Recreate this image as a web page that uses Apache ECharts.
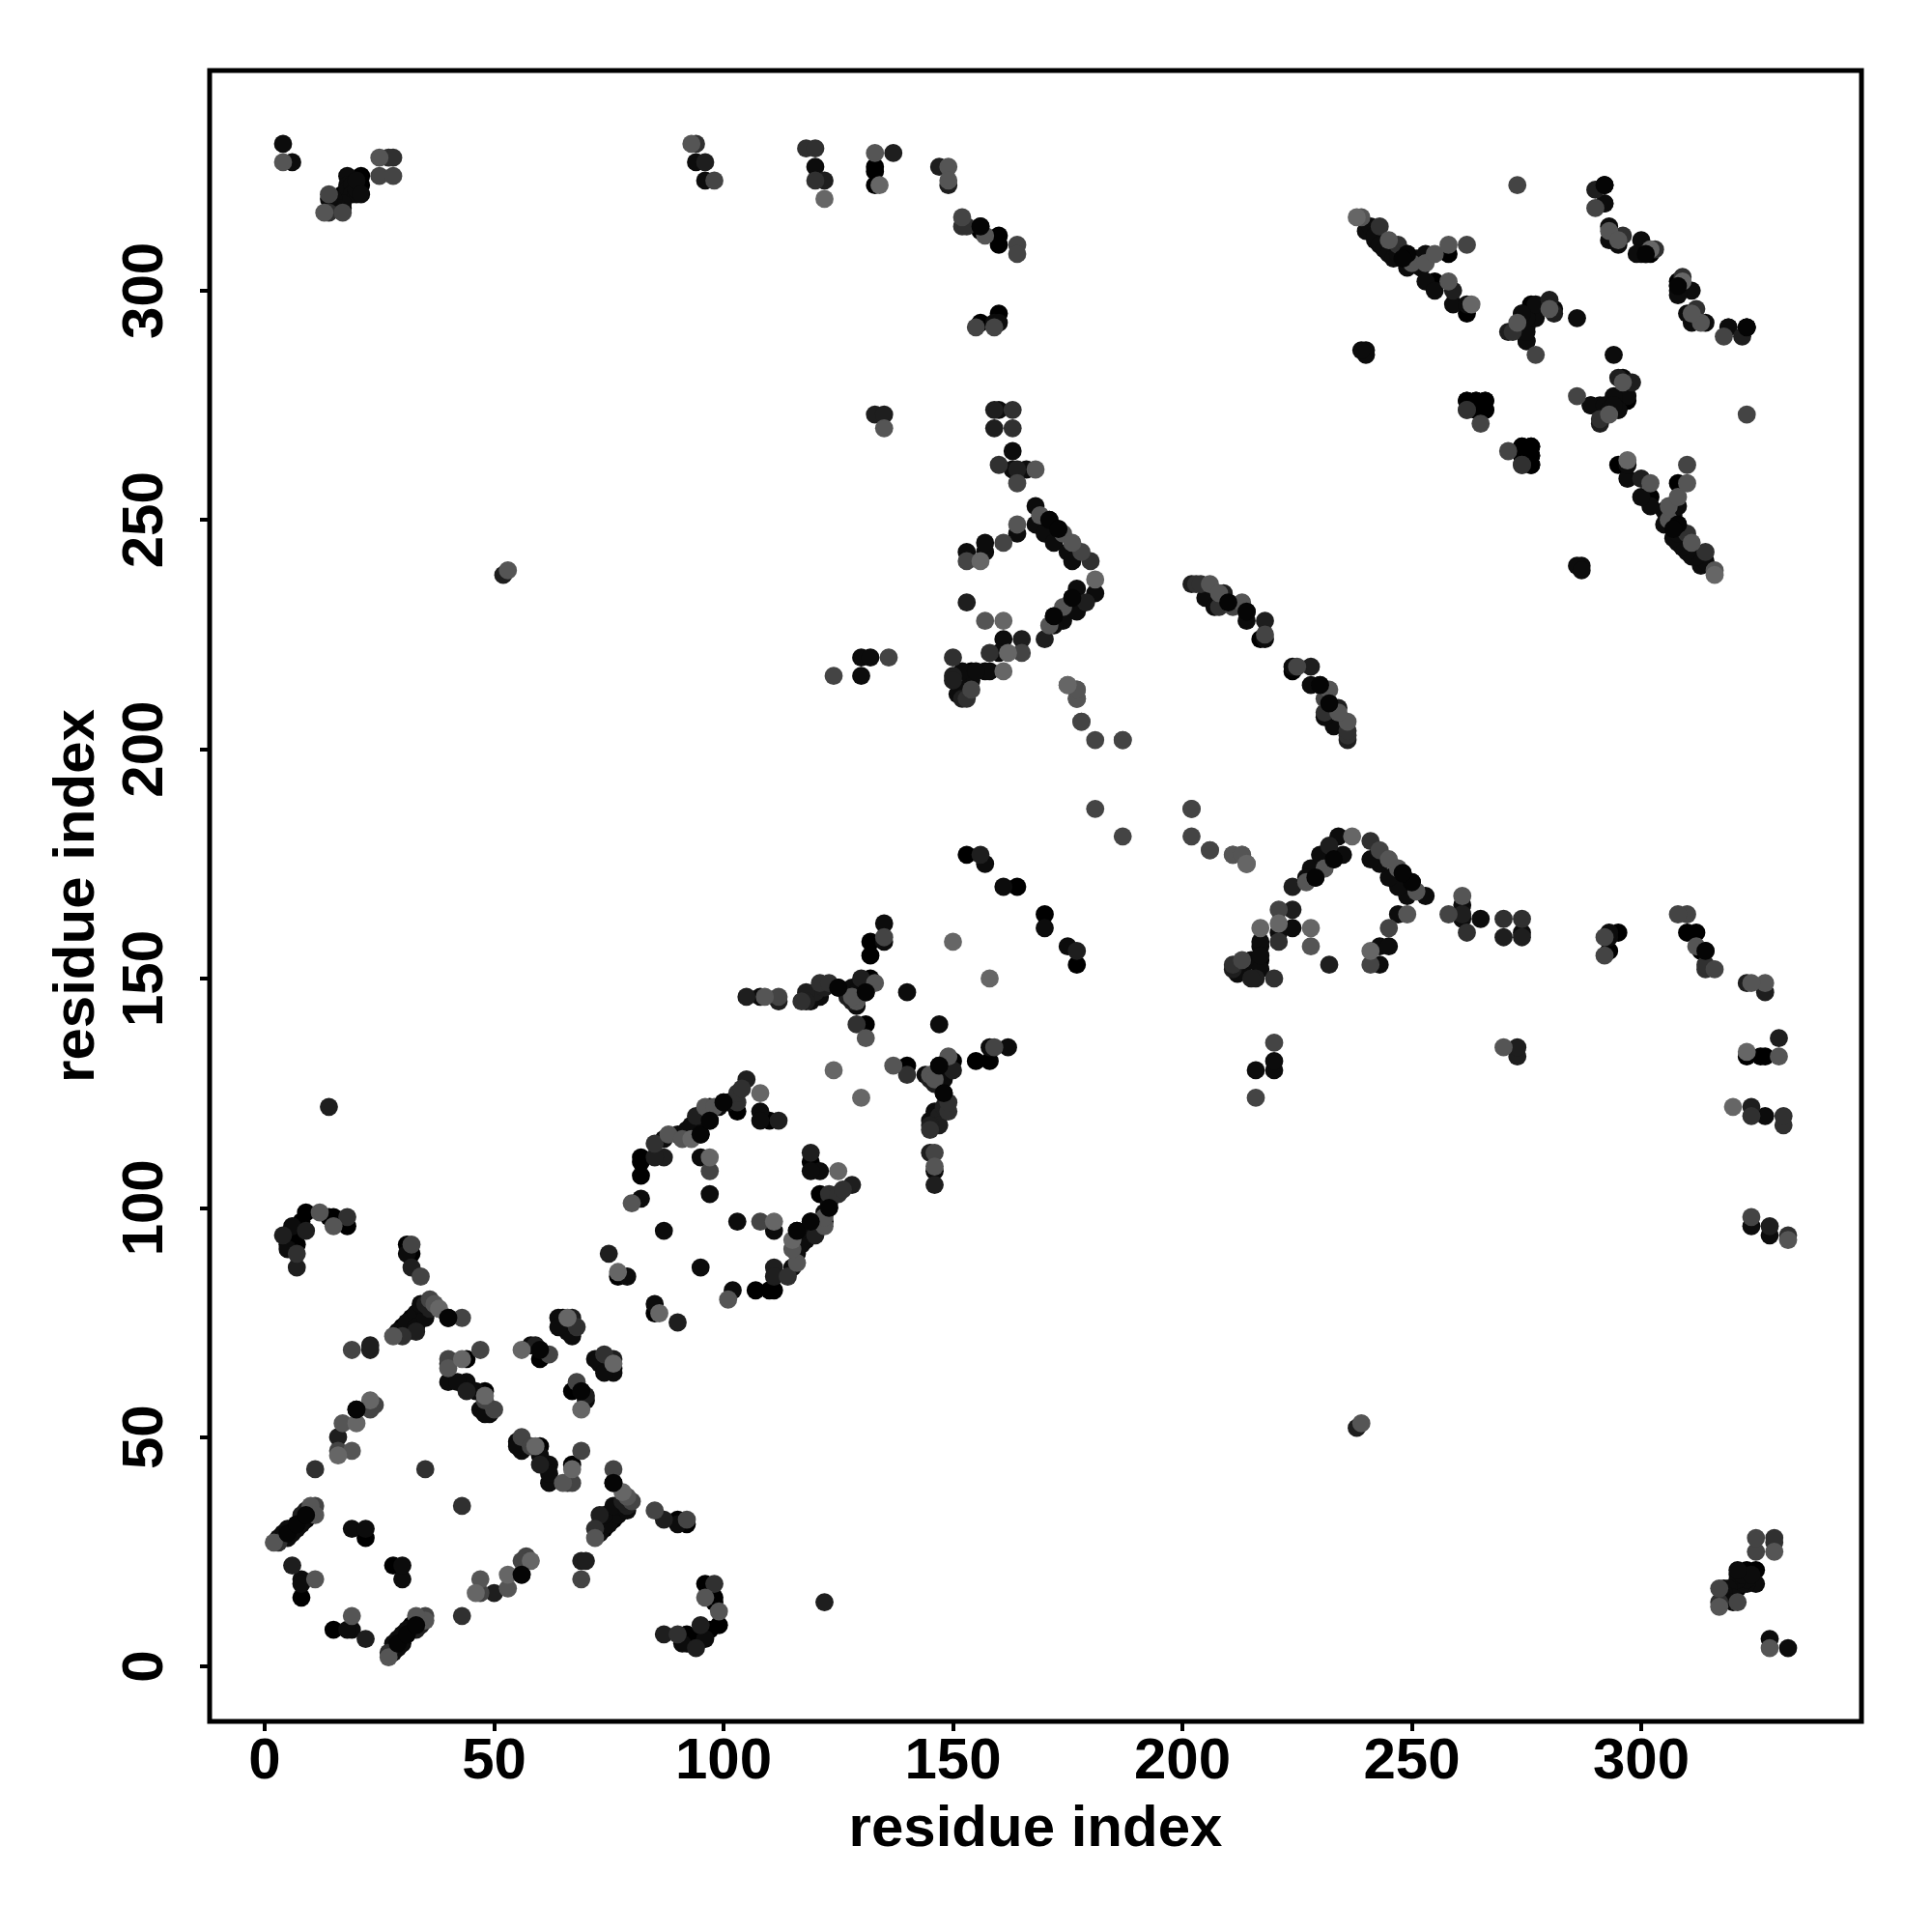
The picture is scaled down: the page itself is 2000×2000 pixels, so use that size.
<!DOCTYPE html>
<html>
<head>
<meta charset="utf-8">
<script src="https://cdn.jsdelivr.net/npm/echarts@6/dist/echarts.min.js"></script>
<style>html,body{margin:0;padding:0;background:#fff}#c{width:2000px;height:2000px}</style>
</head>
<body>
<div id="c"></div>
<script>
// Contact pairs (i<j), grouped by grey level. The map is symmetric.
const shadeBlack = [[4,28],[5,29],[6,30],[7,31],[9,32],[10,33],[22,28],[8,15],[40,76],[44,67],[48,60],[60,69],[60,67],[65,76],[31,92],[32,90],[7,92],[8,97],[14,98],[18,96],[15,98],[9,99],[5,92],[6,94],[32,76],[33,75],[34,76],[77,85],[82,111],[82,110],[82,107],[95,116],[97,122],[103,121],[110,119],[125,148],[132,158],[132,155],[132,150],[131,147],[131,140],[133,327],[133,323],[133,326],[156,314],[156,313],[160,312],[160,310],[160,295],[156,293],[171,250],[176,233],[172,229],[154,217],[210,232],[214,230],[217,224],[249,308],[255,302],[258,308],[262,295],[262,276],[264,276],[266,276],[266,274],[264,274],[274,266],[274,264],[276,266],[276,264],[276,262],[276,297],[301,308],[302,308],[21,325],[21,323],[17,321],[164,170],[153,177],[30,74],[32,74],[34,78]];
const shadeInk = [[3,28],[4,29],[5,28],[5,30],[6,29],[7,30],[8,31],[8,32],[9,33],[20,56],[19,30],[22,30],[8,19],[8,18],[40,62],[44,62],[47,56],[49,55],[48,55],[42,62],[46,60],[58,70],[66,73],[66,74],[67,73],[67,72],[64,76],[64,74],[31,90],[5,91],[6,96],[79,85],[82,102],[92,116],[93,118],[97,119],[108,121],[108,119],[87,115],[95,111],[97,103],[87,95],[129,144],[130,148],[128,148],[129,147],[131,149],[119,145],[121,146],[135,158],[135,162],[140,147],[108,146],[168,253],[168,249],[170,247],[172,245],[175,243],[176,241],[173,248],[175,230],[174,228],[172,227],[177,235],[181,234],[177,230],[161,224],[157,243],[153,243],[164,247],[157,245],[157,217],[158,217],[160,221],[130,220],[132,220],[130,216],[205,233],[207,231],[214,228],[218,224],[240,313],[241,314],[242,311],[242,312],[243,310],[244,309],[245,308],[246,307],[247,308],[248,307],[249,305],[251,307],[252,305],[253,302],[255,300],[259,297],[262,297],[253,308],[240,287],[240,286],[239,287],[275,289],[274,295],[277,294],[281,296],[275,292],[274,293],[275,294],[289,275],[291,275],[294,275],[297,277],[295,274],[286,294],[292,323],[292,319],[293,314],[293,311],[295,310],[300,311],[300,308],[299,308],[319,292],[323,292],[4,332],[6,328],[94,328],[96,324],[120,327],[18,325],[18,323],[18,322],[19,323],[19,321],[20,321],[20,322],[20,324],[21,321],[17,318],[17,319],[15,320],[16,318],[14,320],[159,293],[160,293],[161,170],[157,175],[163,265],[163,261],[166,261],[160,274],[29,73],[31,73],[31,75],[33,77],[35,77],[33,74],[35,76],[34,79],[90,116],[94,116],[94,117],[94,118],[96,119],[92,117],[95,119],[99,122],[101,123],[152,213],[151,212],[153,213],[154,215],[152,217],[155,217]];
const shadeDark = [[8,33],[16,50],[6,22],[44,60],[67,76],[59,70],[7,87],[4,94],[9,95],[75,90],[87,111],[85,111],[94,120],[100,123],[105,128],[112,119],[120,147],[118,147],[118,145],[122,148],[130,150],[128,145],[127,146],[105,146],[112,145],[170,224],[165,224],[150,216],[150,215],[152,211],[153,232],[179,232],[202,236],[209,234],[218,228],[259,300],[290,322],[280,298],[281,295],[271,291],[137,330],[122,324],[96,328],[149,323],[147,327],[156,177],[14,122],[52,238],[133,273],[159,270],[159,274],[164,261],[135,273],[23,69],[23,70],[32,87],[9,34],[33,73],[35,79],[36,78]];
const shadeSlate = [[3,27],[10,34],[11,43],[35,43],[40,66],[68,74],[30,72],[7,90],[18,98],[85,114],[103,123],[103,125],[104,126],[129,140],[117,145],[121,149],[123,149],[150,220],[158,221],[153,211],[203,236],[204,236],[208,231],[243,314],[247,310],[303,309],[296,312],[262,274],[274,262],[291,272],[94,332],[118,331],[120,331],[120,324],[152,314],[153,314],[14,317],[27,329],[28,329],[160,262],[180,241],[163,270],[163,274]];
const shadeMid = [[24,57],[16,47],[19,69],[47,69],[40,67],[50,56],[48,58],[62,68],[43,76],[23,56],[11,35],[32,92],[34,85],[36,80],[97,108],[135,159],[112,146],[161,245],[153,241],[178,243],[165,221],[154,213],[164,258],[136,220],[124,216],[177,211],[178,206],[187,202],[181,187],[202,187],[202,181],[206,178],[218,225],[211,231],[262,310],[265,271],[277,286],[273,323],[290,318],[14,321],[25,325],[28,325],[17,317],[98,324],[152,316],[164,310],[164,308],[155,292],[159,292]];
const shadeDim = [[2,27],[10,35],[11,33],[17,53],[19,47],[11,19],[15,96],[12,99],[28,72],[37,79],[40,65],[80,101],[88,116],[91,115],[96,122],[98,122],[129,145],[128,146],[133,149],[109,146],[131,137],[168,261],[169,251],[174,247],[176,245],[174,231],[171,227],[157,228],[164,249],[177,213],[211,177],[213,177],[214,175],[206,236],[208,234],[213,232],[239,316],[245,311],[250,306],[253,306],[255,308],[258,310],[258,302],[293,313],[295,311],[4,328],[25,329],[13,317],[93,332],[133,330],[149,327],[149,324],[157,312],[135,270],[273,293],[280,296],[53,239]];
const shadeLight = [[23,58],[20,53],[16,46],[43,67],[48,59],[66,76],[56,69],[77,86],[38,78],[93,115],[97,111],[108,125],[124,130],[150,158],[161,228],[156,241],[162,221],[161,217],[175,214],[181,237],[238,316],[263,297],[122,320],[134,323],[302,309]];
const shadeOnTop = [[20,56],[40,76],[60,69],[156,314],[292,323],[5,29],[7,31],[9,33],[95,116],[97,119],[100,123],[171,250],[173,248],[172,229],[176,233],[210,232],[214,230],[249,308],[248,307],[301,308],[125,148],[131,147]];

const shadeGroups = [
  [shadeBlack, '#000000'], [shadeInk, '#0c0c0c'], [shadeDark, '#1e1e1e'], [shadeSlate, '#303030'],
  [shadeMid, '#444444'], [shadeDim, '#555555'], [shadeLight, '#666666'], [shadeOnTop, '#050505']
];
const tickValues = [0, 50, 100, 150, 200, 250, 300];
const axisTitle = 'residue index';

const fontFamily = '"Liberation Sans", Arial, sans-serif';
function axis(nameGap, margin, rotate) {
  return {
    type: 'value', min: -12, max: 348,
    name: axisTitle, nameLocation: 'middle', nameGap,
    nameRotate: rotate,
    nameTextStyle: {fontFamily, fontWeight: 'bold', fontSize: 60, color: '#000'},
    splitLine: {show: false},
    axisLine: {show: false, onZero: false},
    axisTick: {show: true, length: 10, inside: false, customValues: tickValues, lineStyle: {color: '#000', width: 4}},
    axisLabel: {show: true, customValues: tickValues, fontFamily, fontWeight: 'bold', fontSize: 60, color: '#000', hideOverlap: false, showMinLabel: true, showMaxLabel: true, margin, rotate}
  };
}
const chart = echarts.init(document.getElementById('c'), null, {renderer: 'canvas'});
chart.setOption({
  animation: false,
  backgroundColor: '#fff',
  grid: {left: 217, right: 73, top: 73, bottom: 218, show: true, borderColor: '#000', borderWidth: 5, backgroundColor: 'transparent'},
  xAxis: axis(82, 12, 0),
  yAxis: axis(107, 36, 90),
  series: shadeGroups.map(([pairs, color]) => ({
    type: 'scatter',
    symbol: 'circle',
    symbolSize: 18.8,
    silent: true,
    itemStyle: {color, opacity: 1},
    data: pairs.concat(pairs.map(([i, j]) => [j, i]))
  }))
});
</script>
</body>
</html>
